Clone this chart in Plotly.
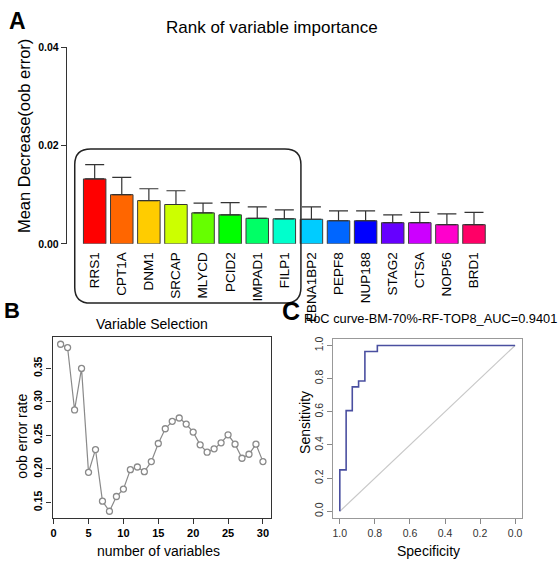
import plotly.graph_objects as go

W, H = 560, 568

# ---------------- Data ----------------
genes = ["RRS1", "CPT1A", "DNM1", "SRCAP", "MLYCD", "PCID2", "IMPAD1", "FILP1",
         "EBNA1BP2", "PEPF8", "NUP188", "STAG2", "CTSA", "NOP56", "BRD1"]
importance = [0.0132, 0.0100, 0.0088, 0.0080, 0.0063, 0.0059, 0.0052, 0.0051,
              0.0050, 0.0047, 0.0047, 0.0043, 0.0043, 0.0039, 0.0039]
importance_upper = [0.0161, 0.0135, 0.0112, 0.0108, 0.0083, 0.0084, 0.0075, 0.0069,
                    0.0075, 0.0067, 0.0067, 0.0059, 0.0064, 0.0061, 0.0064]
bar_colors = ["#FF0000", "#FF6600", "#FFCC00", "#CCFF00", "#66FF00", "#00FF00",
              "#00FF66", "#00FFCC", "#00CCFF", "#0066FF", "#0000FF", "#6600FF",
              "#CC00FF", "#FF00CC", "#FF0066"]

n_vars = list(range(1, 31))
oob_error = [0.386, 0.381, 0.288, 0.350, 0.195, 0.229, 0.152, 0.137, 0.159, 0.170,
             0.199, 0.203, 0.196, 0.211, 0.238, 0.260, 0.271, 0.276, 0.267, 0.255,
             0.236, 0.225, 0.230, 0.239, 0.251, 0.237, 0.216, 0.222, 0.237, 0.211]

roc_specificity = [1.0, 1.0, 0.964, 0.964, 0.929, 0.929, 0.893, 0.893, 0.857, 0.857,
                   0.786, 0.786, 0.0]
roc_sensitivity = [0.0, 0.25, 0.25, 0.607, 0.607, 0.75, 0.75, 0.786, 0.786, 0.964,
                   0.964, 1.0, 1.0]
diag_spec = [1.0, 0.0]
diag_sens = [0.0, 1.0]

FONT = "Arial, Liberation Sans, sans-serif"


def px(x):
    return x / W


def py(y):
    return 1 - y / H


fig = go.Figure()

# ---------------- Panel A ----------------
idx = list(range(len(genes)))
fig.add_trace(go.Bar(
    x=idx, y=importance, width=0.83,
    marker=dict(color=bar_colors, line=dict(color="#3a3a3a", width=1)),
    error_y=dict(type="data", symmetric=False,
                 array=[u - v for u, v in zip(importance_upper, importance)],
                 arrayminus=[0] * len(genes), color="#333333", thickness=1.2, width=9.5),
    xaxis="x", yaxis="y", showlegend=False))

# ---------------- Panel B ----------------
fig.add_trace(go.Scatter(
    x=n_vars, y=oob_error, mode="lines+markers",
    line=dict(color="#8a8a8a", width=1.2),
    marker=dict(symbol="circle", size=6, color="white",
                line=dict(color="#8a8a8a", width=1.3)),
    xaxis="x2", yaxis="y2", showlegend=False))

# ---------------- Panel C ----------------
fig.add_trace(go.Scatter(
    x=diag_spec, y=diag_sens, mode="lines",
    line=dict(color="#c8c8c8", width=1.2),
    xaxis="x3", yaxis="y3", showlegend=False))
fig.add_trace(go.Scatter(
    x=roc_specificity, y=roc_sensitivity, mode="lines",
    line=dict(color="#4a4fa0", width=1.6),
    xaxis="x3", yaxis="y3", showlegend=False))

tickfont_b = dict(family=FONT, size=10.5, color="black", weight="bold")

fig.update_layout(
    width=W, height=H, margin=dict(l=0, r=0, t=0, b=0),
    paper_bgcolor="white", plot_bgcolor="white",
    font=dict(family=FONT, color="black"),
    xaxis=dict(domain=[px(65), px(490)], range=[-1.03, 14.6],
               tickvals=idx, ticktext=genes, tickangle=-90,
               ticks="outside", ticklen=2, tickcolor="rgba(0,0,0,0)",
               showline=False, showgrid=False, zeroline=False,
               tickfont=dict(family=FONT, size=13.5, color="black")),
    yaxis=dict(domain=[py(243), py(42)], range=[0, 0.04],
               tickvals=[0, 0.02, 0.04], ticktext=["0.00", "0.02", "0.04"],
               ticks="outside", ticklen=5, tickcolor="#333", showline=True,
               linecolor="#333", linewidth=1, showgrid=False, zeroline=False,
               tickfont=tickfont_b),
    xaxis2=dict(domain=[px(50.7), px(270)], range=[-0.16, 31.16],
                tickvals=[0, 5, 10, 15, 20, 25, 30],
                ticks="outside", ticklen=5, tickcolor="#333", showline=True,
                mirror=True, linecolor="#333", linewidth=1.2, showgrid=False,
                zeroline=False, anchor="y2", tickfont=dict(family=FONT, size=11, color="black", weight="bold")),
    yaxis2=dict(domain=[py(523), py(338)], range=[0.127, 0.397],
                tickvals=[0.15, 0.20, 0.25, 0.30, 0.35],
                ticktext=["0.15", "0.20", "0.25", "0.30", "0.35"], tickangle=-90,
                ticks="outside", ticklen=5, tickcolor="#333", showline=True,
                mirror=True, linecolor="#333", linewidth=1.2, showgrid=False,
                zeroline=False, anchor="x2", tickfont=tickfont_b),
    xaxis3=dict(domain=[px(332), px(522)], range=[1.04, -0.04],
                tickvals=[1.0, 0.8, 0.6, 0.4, 0.2, 0.0],
                ticktext=["1.0", "0.8", "0.6", "0.4", "0.2", "0.0"],
                ticks="outside", ticklen=5, tickcolor="#888", showline=True,
                mirror=True, linecolor="#999", linewidth=1, showgrid=False,
                zeroline=False, anchor="y3",
                tickfont=dict(family=FONT, size=10.5, color="#333")),
    yaxis3=dict(domain=[py(523), py(340)], range=[-0.04, 1.04],
                tickvals=[0.0, 0.2, 0.4, 0.6, 0.8, 1.0],
                ticktext=["0.0", "0.2", "0.4", "0.6", "0.8", "1.0"], tickangle=-90,
                ticks="outside", ticklen=5, tickcolor="#888", showline=True,
                mirror=True, linecolor="#999", linewidth=1, showgrid=False,
                zeroline=False, anchor="x3",
                tickfont=dict(family=FONT, size=10.5, color="#333")),
)

# rounded box around top-8 genes
L, R, T, B, r = 73, 300, 146, 303.5, 16
path = (f"M {px(L + r)},{py(T)} L {px(R - r)},{py(T)} Q {px(R)},{py(T)} {px(R)},{py(T + r)} "
        f"L {px(R)},{py(B - r)} Q {px(R)},{py(B)} {px(R - r)},{py(B)} "
        f"L {px(L + r)},{py(B)} Q {px(L)},{py(B)} {px(L)},{py(B - r)} "
        f"L {px(L)},{py(T + r)} Q {px(L)},{py(T)} {px(L + r)},{py(T)} Z")
fig.add_shape(type="path", path=path, xref="paper", yref="paper",
              line=dict(color="#222", width=1.5), layer="above")


def ann(text, x, y, size, angle=0, bold=False, color="black"):
    fig.add_annotation(text=text, x=px(x), y=py(y), xref="paper", yref="paper",
                       xanchor="center", yanchor="middle", showarrow=False,
                       textangle=angle,
                       font=dict(family=FONT, size=size, color=color,
                                 weight="bold" if bold else "normal"))


ann("A", 16, 15, 23, bold=True)
ann("Rank of variable importance", 271, 22, 17)
ann("Mean Decrease(oob error)", 22, 133, 16.5, angle=-90)
ann("B", 10, 311, 22, bold=True)
ann("Variable Selection", 151, 325, 14)
ann("oob error rate", 20, 439, 14, angle=-90)
ann("number of variables", 157, 557, 14)
ann("C", 290, 312, 25, bold=True)
ann("RoC curve-BM-70%-RF-TOP8_AUC=0.9401", 430, 319, 12.8)
ann("Sensitivity", 304, 425, 14, angle=-90)
ann("Specificity", 428, 557, 14)

fig.write_html("out.html", config={"displayModeBar": False},
               post_script="document.body.style.margin='0';document.body.style.overflow='hidden';")
